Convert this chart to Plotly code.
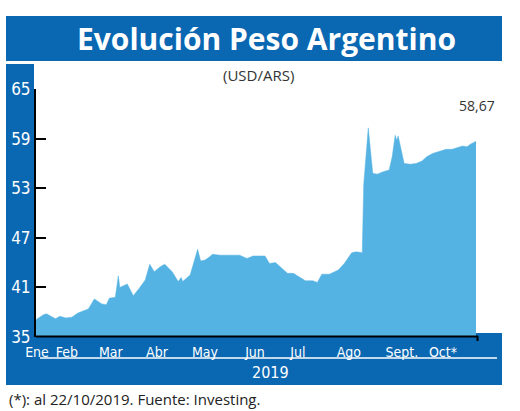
import plotly.graph_objects as go

dates = [
    "2019-01-01", "2019-01-06", "2019-01-08", "2019-01-14", "2019-01-17", "2019-01-21",
    "2019-01-25", "2019-01-29", "2019-02-05", "2019-02-09", "2019-02-14", "2019-02-17",
    "2019-02-19", "2019-02-23", "2019-02-25", "2019-02-26", "2019-03-03", "2019-03-07",
    "2019-03-11", "2019-03-15", "2019-03-18", "2019-03-21", "2019-03-25", "2019-03-28",
    "2019-04-02", "2019-04-06", "2019-04-08", "2019-04-09", "2019-04-14", "2019-04-17",
    "2019-04-19", "2019-04-21", "2019-04-24", "2019-04-27", "2019-04-29", "2019-05-04",
    "2019-05-11", "2019-05-17", "2019-05-22", "2019-05-26", "2019-06-03", "2019-06-06",
    "2019-06-10", "2019-06-13", "2019-06-18", "2019-06-22", "2019-06-26", "2019-06-30",
    "2019-07-05", "2019-07-08", "2019-07-11", "2019-07-16", "2019-07-22", "2019-07-26",
    "2019-07-31", "2019-08-03", "2019-08-07", "2019-08-08", "2019-08-11", "2019-08-14",
    "2019-08-17", "2019-08-21", "2019-08-25", "2019-08-27", "2019-08-29", "2019-08-30",
    "2019-08-31", "2019-09-02", "2019-09-04", "2019-09-08", "2019-09-12", "2019-09-16",
    "2019-09-19", "2019-09-23", "2019-09-28", "2019-10-02", "2019-10-06", "2019-10-11",
    "2019-10-13", "2019-10-16", "2019-10-18", "2019-10-22",
]
usd_ars = [
    37.1, 37.7, 37.8, 37.2, 37.5, 37.3,
    37.4, 37.9, 38.4, 39.6, 39.0, 38.9,
    39.7, 39.8, 42.4, 41.0, 41.4, 40.0,
    40.9, 41.9, 43.8, 42.9, 43.5, 43.8,
    42.9, 41.7, 42.2, 41.7, 42.5, 44.4,
    45.6, 44.2, 44.3, 44.7, 45.0, 44.9,
    44.9, 44.9, 44.5, 44.8, 44.8, 43.9,
    44.0, 43.5, 42.7, 42.7, 42.2, 41.8,
    41.8, 41.6, 42.6, 42.6, 43.1, 43.9,
    45.2, 45.3, 45.2, 53.5, 60.3, 54.8,
    54.7, 55.0, 55.2, 56.8, 59.4, 58.8,
    59.3, 57.6, 56.0, 55.9, 56.0, 56.3,
    56.8, 57.2, 57.5, 57.7, 57.7, 58.0,
    58.1, 58.0, 58.3, 58.67,
]

month_tickvals = ["2019-01-01 16:00", "2019-01-21 16:00", "2019-02-20", "2019-03-22 20:00",
                  "2019-04-23 22:00", "2019-05-27 08:00", "2019-06-25", "2019-07-29",
                  "2019-09-02 12:00", "2019-09-29 22:00"]
month_labels = ["Ene", "Feb", "Mar", "Abr", "May", "Jun", "Jul", "Ago", "Sept.", "Oct*"]
y_ticks = [35, 41, 47, 53, 59, 65]

title = "Evolución Peso Argentino"
subtitle = "(USD/ARS)"
year_label = "2019"
footer = "(*): al 22/10/2019. Fuente: Investing."

W, H = 520, 411
ML, MR, MT, MB = 36, 42, 89, 74
PW, PH = W - ML - MR, H - MT - MB
DARK_BLUE = "#0a67b2"
FILL_BLUE = "#55b3e3"
COND = "DejaVu Sans Condensed, Liberation Sans Narrow, Roboto Condensed, sans-serif"


def px(x):
    return (x - ML) / PW


def py(y):
    return (H - MB - y) / PH


fig = go.Figure()
fig.add_trace(go.Scatter(
    x=dates, y=usd_ars, mode="lines", fill="tozeroy",
    line=dict(color=FILL_BLUE, width=0.5), fillcolor=FILL_BLUE,
    hoverinfo="x+y", showlegend=False,
))

shapes = [
    dict(type="rect", xref="paper", yref="paper", x0=px(6), x1=px(502), y0=py(61), y1=py(16),
         fillcolor=DARK_BLUE, line_width=0, layer="below"),
    dict(type="rect", xref="paper", yref="paper", x0=px(6), x1=px(34), y0=py(385), y1=py(64),
         fillcolor=DARK_BLUE, line_width=0, layer="below"),
    dict(type="rect", xref="paper", yref="paper", x0=px(6), x1=px(502), y0=py(385), y1=py(333),
         fillcolor=DARK_BLUE, line_width=0, layer="below"),
    dict(type="line", xref="paper", yref="paper", x0=px(40), x1=px(497), y0=py(358), y1=py(358),
         line=dict(color="white", width=1.5)),
    dict(type="line", xref="paper", yref="paper", x0=px(477.5), x1=px(477.5), y0=py(336), y1=py(341),
         line=dict(color="black", width=2)),
    dict(type="line", xref="paper", yref="paper", x0=px(36), x1=px(478), y0=py(336.5), y1=py(336.5),
         line=dict(color="black", width=2)),
]

annotations = [
    dict(text=f"<b>{title}</b>", xref="paper", yref="paper", x=px(266), y=py(38),
         showarrow=False, font=dict(family="Open Sans, sans-serif", size=30, color="white"),
         xanchor="center", yanchor="middle"),
    dict(text=subtitle, xref="paper", yref="paper", x=px(258), y=py(75),
         showarrow=False, font=dict(family="Open Sans, sans-serif", size=15, color="#333333"),
         xanchor="center", yanchor="middle"),
    dict(text=f"{usd_ars[-1]:.2f}".replace(".", ","), x=dates[-1], y=usd_ars[-1],
         xref="x", yref="y", showarrow=False, yshift=36, xshift=1,
         font=dict(family="Open Sans, sans-serif", size=14, color="#333333"),
         xanchor="center", yanchor="middle"),
    dict(text=year_label, xref="paper", yref="paper", x=px(270), y=py(372),
         showarrow=False, font=dict(family=COND, size=16, color="white"),
         xanchor="center", yanchor="middle"),
    dict(text=footer, xref="paper", yref="paper", x=px(7), y=py(399),
         showarrow=False, font=dict(family="Open Sans, sans-serif", size=15, color="#222222"),
         xanchor="left", yanchor="middle"),
]

fig.update_layout(
    width=W, height=H,
    margin=dict(l=ML, r=MR, t=MT, b=MB, pad=0),
    paper_bgcolor="white", plot_bgcolor="rgba(0,0,0,0)",
    shapes=shapes, annotations=annotations,
    xaxis=dict(
        type="date", range=["2019-01-01", "2019-10-23 08:00"],
        tickvals=month_tickvals, ticktext=month_labels,
        tickfont=dict(family=COND, size=14, color="white"),
        ticks="outside", ticklen=2, tickcolor="rgba(0,0,0,0)",
        showgrid=False, zeroline=False, showline=False, fixedrange=True,
    ),
    yaxis=dict(
        range=[35, 65], tickvals=y_ticks,
        tickfont=dict(family=COND, size=17, color="white"),
        ticks="inside", ticklen=10, tickwidth=2, tickcolor="black",
        showline=True, linecolor="black", linewidth=2,
        showgrid=False, zeroline=False, fixedrange=True,
    ),
)

fig.write_html("out.html")
